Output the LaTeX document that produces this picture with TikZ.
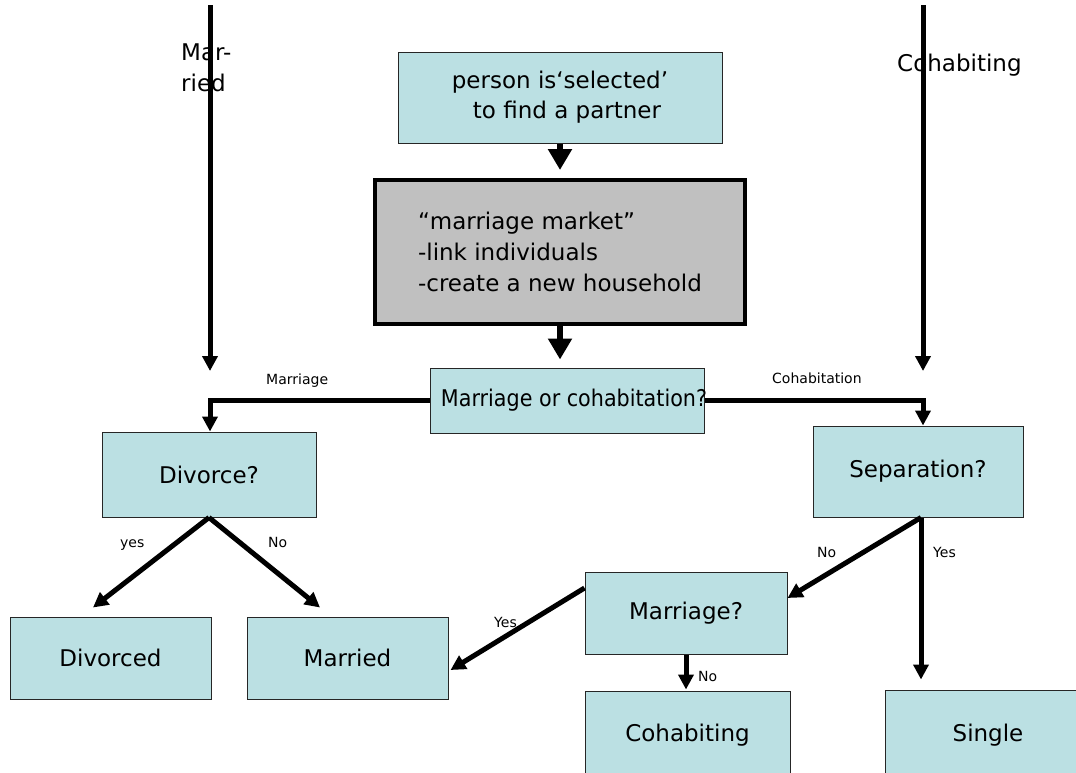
\documentclass[tikz,border=0pt]{standalone}
\usepackage{fontspec}
\setmainfont{DejaVu Sans}
\newfontfamily\condfont[FakeStretch=0.9]{DejaVu Sans}
\usetikzlibrary{arrows.meta}
\definecolor{boxblue}{RGB}{187,224,227}
\definecolor{boxgray}{RGB}{192,192,192}
\begin{document}
\begin{tikzpicture}[x=1pt,y=-1pt,
  box/.style={draw=black!85, line width=1pt, fill=boxblue, inner sep=0pt, font=\fontsize{23}{28}\selectfont},
  lbl/.style={inner sep=0pt, anchor=base west, font=\fontsize{14}{16}\selectfont},
  arr/.style={line width=5pt, -{Triangle[width=15pt,length=15pt]}},
  bigarr/.style={line width=6pt, -{Triangle[width=23pt,length=21pt]}}]
\useasboundingbox (0,0) rectangle (1076,772);
\begin{scope}
\clip (0,0) rectangle (1076,772);
% boxes
\node[box, minimum width=324, minimum height=91, align=center, font=\fontsize{23}{30}\selectfont] (sel) at (560,97.5) {person is‘selected’\\\hspace*{14pt}to find a partner};
\node[box, fill=boxgray, draw=black, line width=4pt, minimum width=370, minimum height=144, align=left, font=\fontsize{23}{31}\selectfont] (mkt) at (560,252) {“marriage market”\\-link individuals\\-create a new household};
\node[box, minimum width=274, minimum height=65] (dec) at (567,400.5) {\makebox[0pt]{\hspace{14pt}\condfont Marriage or cohabitation?}};
\node[box, minimum width=214, minimum height=85] (div) at (209,474.5) {Divorce?};
\node[box, minimum width=210, minimum height=91] (sep) at (918,471.5) {Separation?};
\node[box, minimum width=201, minimum height=82] (divd) at (110.5,658) {Divorced};
\node[box, minimum width=201, minimum height=82] (marr) at (347.5,658) {Married};
\node[box, minimum width=202, minimum height=82] (mq) at (686,613) {Marriage?};
\node[box, minimum width=205, minimum height=88] (coh) at (687.5,735) {Cohabiting};
\node[box, minimum width=206, minimum height=90] (sing) at (988,735) {Single};
% top labels
\node[inner sep=0pt, align=left, anchor=north west, font=\fontsize{23}{31}\selectfont] (mlab) at (181,44) {Mar-\\ried};
\node[inner sep=0pt, anchor=base west, font=\fontsize{23}{28}\selectfont] (clab) at (897,71) {Cohabiting};
% free ends
\coordinate (ltop) at (210,5);
\coordinate (lbot) at (210,371);
\coordinate (rtop) at (923,5);
\coordinate (rbot) at (923,371);
% connectors
\draw[bigarr, shorten >=8pt] (sel.south) -- (mkt.north);
\draw[bigarr, shorten >=8pt] (mkt.south) -- (mkt.south |- dec.north);
\draw[arr] (ltop) -- (lbot);
\draw[arr] (rtop) -- (rbot);
\draw[arr] (dec.west) -| ([xshift=1pt]div.north);
\draw[arr] (dec.east) -| ([xshift=5pt]sep.north);
\draw[arr] (div.south) -- ([xshift=-17.5pt,yshift=9pt]divd.north);
\draw[arr] (div.south) -- ([xshift=-27.5pt,yshift=9pt]marr.north);
\draw[arr] ([xshift=3pt]sep.south) -- ([yshift=15pt]mq.east);
\draw[arr] ([xshift=3pt]sep.south) -- ([xshift=-67pt,yshift=10pt]sing.north);
\draw[arr] ([yshift=25pt]mq.west) -- ([xshift=2pt,yshift=-12pt]marr.east);
\draw[arr] (mq.south) -- ([yshift=1pt]mq.south |- coh.north);
% connector labels
\node[lbl] (lmar) at (266,384) {Marriage};
\node[lbl] (lcoh) at (772,383) {Cohabitation};
\node[lbl] (lyes1) at (120,547) {yes};
\node[lbl] (lno1) at (268,547) {No};
\node[lbl] (lno2) at (817,557) {No};
\node[lbl] (lyes2) at (933,557) {Yes};
\node[lbl] (lyes3) at (494,627) {Yes};
\node[lbl] (lno3) at (698,681) {No};
\end{scope}
\end{tikzpicture}
\end{document}
